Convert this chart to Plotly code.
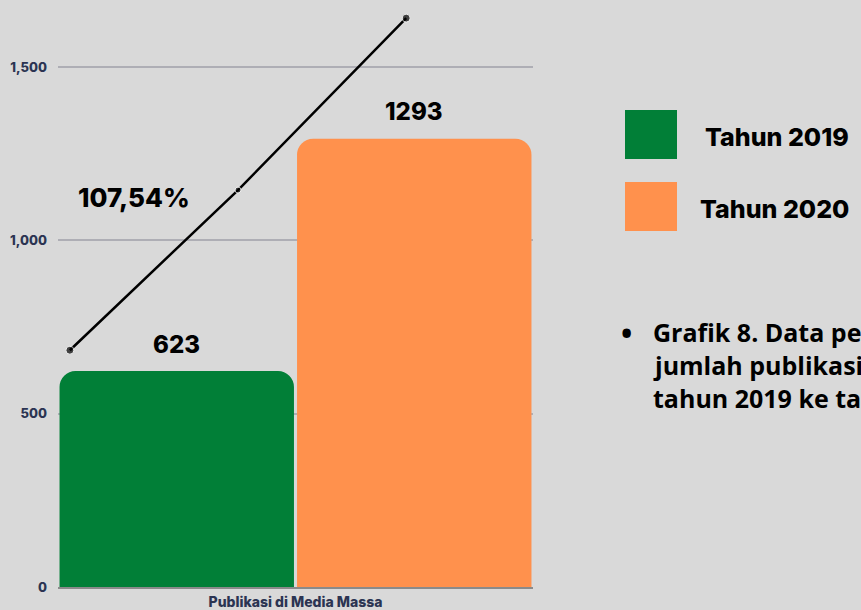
import plotly.graph_objects as go

# ---- data ----
category = ["Publikasi di Media Massa"]
series_names = ["Tahun 2019", "Tahun 2020"]
values_2019 = [623]
values_2020 = [1293]
growth_label = "107,54%"
trend_x = [0.025, 0.379, 0.733]
trend_y = [683, 1145, 1641]
y_tick_vals = [0, 500, 1000, 1500]
y_tick_text = ["0", "500", "1,000", "1,500"]
caption_lines = ["Grafik 8. Data peningkatan", "jumlah publikasi di media massa", "tahun 2019 ke tahun 2020"]

GREEN = "#017f37"
ORANGE = "#ff914d"
BG = "#d9d9d9"
NAVY = "#2b3452"

W, H = 861, 610
L, R, T, B = 58, 328, 10, 23
PW, PH = W - L - R, H - T - B


def px_x(x):
    return (x - L) / PW


def px_y(y):
    return (H - B - y) / PH


fig = go.Figure()
fig.add_trace(go.Bar(x=category, y=values_2019, name=series_names[0],
                     marker=dict(color=GREEN, line=dict(width=0)), showlegend=False))
fig.add_trace(go.Bar(x=category, y=values_2020, name=series_names[1],
                     marker=dict(color=ORANGE, line=dict(width=0)), showlegend=False))
fig.add_trace(go.Scatter(x=trend_x, y=trend_y, xaxis="x2", mode="lines+markers",
                         line=dict(color="black", width=2.5),
                         marker=dict(color="black", size=[8, 6, 8]),
                         cliponaxis=False, showlegend=False, hoverinfo="skip"))

ymax = PH * 1500 / 520

annotations = []
for i, v in enumerate([values_2019[0], values_2020[0]]):
    annotations.append(dict(x=0.25 + 0.5 * i, y=v, xref="x2", yref="y", text=str(v),
                            showarrow=False, yshift=27,
                            font=dict(family="Inter", size=24, color="black", weight=800)))
annotations.append(dict(x=0.16, y=1125, xref="x2", yref="y", text=growth_label,
                        showarrow=False,
                        font=dict(family="Inter", size=26, color="black", weight=800)))

shapes = []
legend_boxes = [(110, 159, GREEN), (182, 231, ORANGE)]
legend_text_x = [703, 698]
for (y0, y1, c), name, tx in zip(legend_boxes, series_names, legend_text_x):
    shapes.append(dict(type="rect", xref="paper", yref="paper",
                       x0=px_x(625), x1=px_x(677), y0=px_y(y1), y1=px_y(y0),
                       fillcolor=c, line=dict(width=0)))
    annotations.append(dict(x=px_x(tx), y=px_y((y0 + y1) / 2 + 2), xref="paper", yref="paper",
                            text=name, showarrow=False, xanchor="left", yanchor="middle",
                            font=dict(family="Inter", size=25, color="black", weight=800)))

annotations.append(dict(x=px_x(619), y=px_y(332), xref="paper", yref="paper", text="•",
                        showarrow=False, xanchor="left", yanchor="middle",
                        font=dict(family="Open Sans", size=30, color="black", weight=700)))
for i, line in enumerate(caption_lines):
    annotations.append(dict(x=px_x(651), y=px_y(332 + 33 * i), xref="paper", yref="paper",
                            text=line, showarrow=False, xanchor="left", yanchor="middle",
                            font=dict(family="Open Sans", size=25, color="black", weight=700)))

fig.update_layout(
    width=W, height=H,
    margin=dict(l=L, r=R, t=T, b=B),
    paper_bgcolor=BG, plot_bgcolor=BG,
    barmode="group", bargap=0, bargroupgap=0.013, barcornerradius=16,
    xaxis=dict(showgrid=False, showline=True, linecolor="#8a8a8a", linewidth=1.5,
               ticks="", ticklabelstandoff=1, automargin=False,
               tickfont=dict(family="Inter", size=14, color=NAVY, weight=800),
               fixedrange=True),
    xaxis2=dict(overlaying="x", range=[0, 1], visible=False, fixedrange=True),
    yaxis=dict(range=[0, ymax], tickvals=y_tick_vals, ticktext=y_tick_text,
               showgrid=True, gridcolor="#aeaeb5", gridwidth=1.5, zeroline=False,
               ticks="", ticklabelstandoff=10, automargin=False,
               tickfont=dict(family="Inter", size=13, color=NAVY, weight=800),
               fixedrange=True),
    annotations=annotations, shapes=shapes,
)

fig.write_html("out.html", config={"displayModeBar": False},
               post_script="document.body.style.margin='0';document.body.style.overflow='hidden';document.body.style.background='#d9d9d9';")
